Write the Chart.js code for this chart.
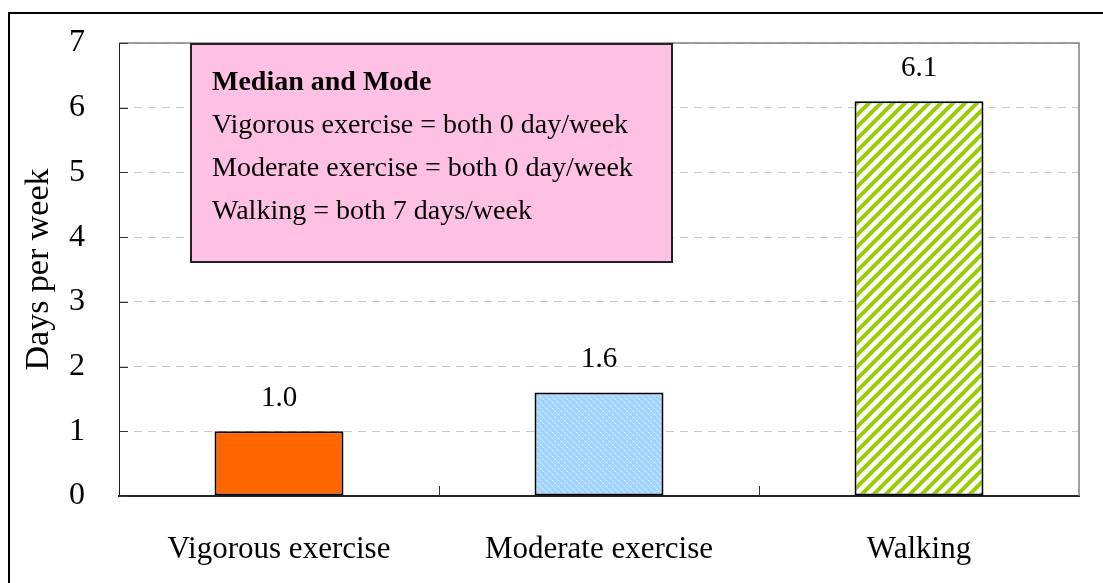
<!DOCTYPE html>
<html>
<head>
<meta charset="utf-8">
<script src="https://cdn.jsdelivr.net/npm/chart.js@4"></script>
<style>
  body { margin: 0; background: #fff; }
  canvas { display: block; }
</style>
</head>
<body>
<canvas id="daysChart" width="1103" height="583"></canvas>
<script>
  // chart data
  const categories = ['Vigorous exercise', 'Moderate exercise', 'Walking'];
  const daysPerWeek = [1.0, 1.6, 6.1];
  const yTicks = [0, 1, 2, 3, 4, 5, 6, 7];
  const noteTitle = 'Median and Mode';
  const noteLines = [
    'Vigorous exercise = both 0 day/week',
    'Moderate exercise = both 0 day/week',
    'Walking = both 7 days/week'
  ];

  const serif = '"Liberation Serif", "Times New Roman", serif';

  function dottedBlue() {
    const c = document.createElement('canvas');
    c.width = 6; c.height = 6;
    const g = c.getContext('2d');
    g.fillStyle = '#a3d3ff';
    g.fillRect(0, 0, 6, 6);
    g.fillStyle = '#dff1ff';
    g.fillRect(0, 0, 1, 1);
    g.fillRect(3, 3, 1, 1);
    g.fillStyle = '#c2e4ff';
    g.fillRect(1, 1, 1, 1);
    g.fillRect(4, 4, 1, 1);
    g.fillRect(2, 2, 1, 1);
    g.fillRect(5, 5, 1, 1);
    return g.createPattern(c, 'repeat');
  }

  function greenStripes() {
    const s = 12;
    const c = document.createElement('canvas');
    c.width = s; c.height = s;
    const g = c.getContext('2d');
    g.fillStyle = '#ffffff';
    g.fillRect(0, 0, s, s);
    g.strokeStyle = '#99cc00';
    g.lineWidth = 4;
    g.beginPath();
    g.moveTo(-2, s + 2); g.lineTo(s + 2, -2);
    g.moveTo(-2, 2); g.lineTo(2, -2);
    g.moveTo(s - 2, s + 2); g.lineTo(s + 2, s - 2);
    g.stroke();
    return g.createPattern(c, 'repeat');
  }

  const barFills = ['#ff6600', dottedBlue(), greenStripes()];

  const framePlugin = {
    id: 'frame',
    beforeDraw(chart) {
      const ctx = chart.ctx;
      ctx.save();
      ctx.fillStyle = '#fff';
      ctx.fillRect(0, 0, chart.width, chart.height);
      // outer border of the figure
      ctx.strokeStyle = '#000';
      ctx.lineWidth = 2;
      ctx.beginPath();
      ctx.moveTo(9, chart.height);
      ctx.lineTo(9, 13);
      ctx.lineTo(chart.width, 13);
      ctx.stroke();
      ctx.restore();
    },
    beforeDatasetsDraw(chart) {
      const ctx = chart.ctx;
      const a = chart.chartArea;
      const x = chart.scales.x, y = chart.scales.y;
      ctx.save();
      // plot frame top/right
      ctx.strokeStyle = '#808080';
      ctx.lineWidth = 1.5;
      ctx.beginPath();
      ctx.moveTo(a.left, a.top);
      ctx.lineTo(a.right, a.top);
      ctx.lineTo(a.right, a.bottom);
      ctx.stroke();
      // inward tick marks
      ctx.strokeStyle = '#333';
      ctx.lineWidth = 1;
      ctx.beginPath();
      yTicks.forEach(v => {
        const py = Math.round(y.getPixelForValue(v)) + 0.5;
        ctx.moveTo(a.left, py);
        ctx.lineTo(a.left + 9, py);
      });
      for (let i = 1; i < categories.length; i++) {
        const px = Math.round((x.getPixelForValue(i - 1) + x.getPixelForValue(i)) / 2) + 0.5;
        ctx.moveTo(px, a.bottom);
        ctx.lineTo(px, a.bottom - 10);
      }
      ctx.stroke();

      // note box
      const bx = a.left + 72, by = a.top + 1, bw = 481, bh = 218;
      ctx.fillStyle = '#ffc1e3';
      ctx.fillRect(bx, by, bw, bh);
      ctx.strokeStyle = '#222';
      ctx.lineWidth = 2;
      ctx.strokeRect(bx, by, bw, bh);
      ctx.fillStyle = '#000';
      ctx.textBaseline = 'middle';
      ctx.textAlign = 'left';
      ctx.font = 'bold 28px ' + serif;
      ctx.fillText(noteTitle, bx + 21, by + 39);
      ctx.font = '28px ' + serif;
      noteLines.forEach((t, i) => {
        ctx.fillText(t, bx + 21, by + 82 + i * 43);
      });
      ctx.restore();
    },
    afterDatasetsDraw(chart) {
      const ctx = chart.ctx;
      const meta = chart.getDatasetMeta(0);
      ctx.save();
      ctx.fillStyle = '#000';
      ctx.font = '29px ' + serif;
      ctx.textAlign = 'center';
      ctx.textBaseline = 'middle';
      meta.data.forEach((bar, i) => {
        ctx.fillText(daysPerWeek[i].toFixed(1), bar.x, bar.y - 33);
      });
      ctx.restore();
    }
  };

  new Chart(document.getElementById('daysChart'), {
    type: 'bar',
    data: {
      labels: categories,
      datasets: [{
        data: daysPerWeek,
        backgroundColor: barFills,
        borderColor: '#000',
        borderWidth: 2,
        borderSkipped: false,
        categoryPercentage: 1,
        barPercentage: 0.403
      }]
    },
    options: {
      responsive: false,
      animation: false,
      events: [],
      layout: { padding: { left: 0, top: 43, right: 24, bottom: 0 } },
      plugins: {
        legend: { display: false },
        tooltip: { enabled: false }
      },
      scales: {
        x: {
          grid: { display: false, drawTicks: false },
          border: { color: '#222', width: 2 },
          ticks: {
            color: '#000',
            font: { family: serif, size: 31 },
            padding: 35,
            maxRotation: 0
          },
          afterFit(scale) {
            scale.height = 87;
            scale.paddingLeft = 0;
            scale.paddingRight = 0;
          }
        },
        y: {
          min: 0,
          max: 7,
          afterBuildTicks(scale) { scale.ticks = yTicks.map(v => ({ value: v })); },
          grid: { color: '#c8c8c8', lineWidth: 1, drawTicks: false },
          border: { color: '#222', width: 1, dash: [8, 6] },
          ticks: {
            color: '#000',
            font: { family: serif, size: 32 },
            padding: 34
          },
          title: {
            display: true,
            text: 'Days per week',
            color: '#000',
            font: { family: serif, size: 34 },
            padding: { top: 19, bottom: 0 }
          },
          afterFit(scale) {
            scale.width = 119;
            scale.paddingTop = 0;
            scale.paddingBottom = 0;
          }
        }
      }
    },
    plugins: [framePlugin]
  });
</script>
</body>
</html>
